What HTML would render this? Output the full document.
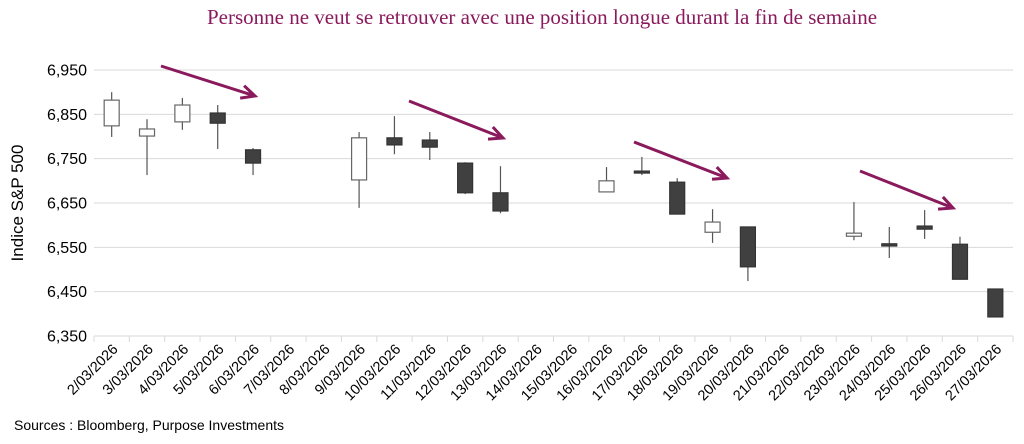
<!DOCTYPE html>
<html><head><meta charset="utf-8"><style>
body{margin:0;background:#fff;width:1024px;height:439px;overflow:hidden;font-family:"Liberation Sans",sans-serif}
</style></head><body>
<svg id="c" width="1024" height="439" xmlns="http://www.w3.org/2000/svg">
<text x="542" y="24" text-anchor="middle" font-family="Liberation Serif,serif" font-size="21" fill="#8a1a5c">Personne ne veut se retrouver avec une position longue durant la fin de semaine</text>
<text transform="translate(23,203) rotate(-90)" text-anchor="middle" font-size="17" fill="#000">Indice S&amp;P 500</text>
<text x="14" y="430" font-size="14" fill="#000">Sources : Bloomberg, Purpose Investments</text>
<g id="grid"></g><g id="ax"></g><g id="marks"></g><g id="arrows"></g>
</svg>
<script>
const categories=["2/03/2026","3/03/2026","4/03/2026","5/03/2026","6/03/2026","7/03/2026","8/03/2026","9/03/2026","10/03/2026","11/03/2026","12/03/2026","13/03/2026","14/03/2026","15/03/2026","16/03/2026","17/03/2026","18/03/2026","19/03/2026","20/03/2026","21/03/2026","22/03/2026","23/03/2026","24/03/2026","25/03/2026","26/03/2026","27/03/2026"];
const openVals=[6824,6801,6833,6853,6770,null,null,6702,6797,6792,6740,6673,null,null,6675,6722,6697,6584,6596,null,null,6575,6558,6598,6557,6456];
const highVals=[6900,6839,6887,6871,6774,null,null,6810,6846,6810,6742,6733,null,null,6731,6754,6706,6636,6596,null,null,6652,6596,6634,6574,6456];
const lowVals=[6799,6713,6815,6772,6713,null,null,6639,6760,6747,6670,6627,null,null,6675,6713,6625,6560,6474,null,null,6566,6526,6569,6478,6393];
const closeVals=[6882,6817,6871,6830,6740,null,null,6797,6781,6776,6673,6632,null,null,6700,6718,6625,6607,6506,null,null,6582,6553,6591,6478,6393];
const yTicks=[6350,6450,6550,6650,6750,6850,6950];
const yTickLabels=["6,350","6,450","6,550","6,650","6,750","6,850","6,950"];
const NS="http://www.w3.org/2000/svg";
const X0=94,X1=1013,Y0=336,Y1=70,VMIN=6350,VMAX=6950;
const bw=(X1-X0)/categories.length;
const xC=i=>X0+bw*(i+0.5);
const y=v=>Y0-(v-VMIN)/(VMAX-VMIN)*(Y0-Y1);
function mk(p,t,a){const e=document.createElementNS(NS,t);for(const k in a)e.setAttribute(k,a[k]);document.getElementById(p).appendChild(e);return e;}
yTicks.forEach((v,i)=>{
 if(i>0){const g=mk('grid','line',{x1:X0,x2:X1,y1:y(v),y2:y(v),stroke:'#d9d9d9','stroke-width':1});
 
 }
 const t=mk('ax','text',{x:87,y:y(v)+5.5,'text-anchor':'end','font-size':16,fill:'#000'});t.textContent=yTickLabels[i];
 
 
});
const axl=mk('ax','line',{x1:X0,x2:X1,y1:Y0,y2:Y0,stroke:'#d9d9d9'});


for(let i=0;i<=categories.length;i++){const tk=mk('ax','line',{x1:X0+bw*i,x2:X0+bw*i,y1:Y0,y2:Y0+6,stroke:'#d9d9d9'});
 
 }
categories.forEach((c,i)=>{
 const cx=xC(i)+7;
 const t=mk('ax','text',{x:cx,y:Y0+14,'text-anchor':'end','font-size':14.5,fill:'#000',transform:`rotate(-45 ${cx} ${Y0+14})`});t.textContent=c;
 
 
 if(openVals[i]==null)return;
 const o=openVals[i],cl=closeVals[i],up=cl>=o;
 const w=mk('marks','line',{x1:xC(i),x2:xC(i),y1:y(highVals[i]),y2:y(lowVals[i]),stroke:'#555','stroke-width':1.2});
 
 
 const top=y(Math.max(o,cl)),h=Math.max(2,Math.abs(y(o)-y(cl)));
 const b=mk('marks','rect',{x:xC(i)-7.5,y:top,width:15,height:h,fill:up?'#fff':'#404040',stroke:up?'#666':'#333','stroke-width':1.2});
 
 
});
const arrows=[[161,66,255,96],[409,101,503,138],[634,142,727,178],[860,171,953,208]];
arrows.forEach(a=>{
 const [x1,y1,x2,y2]=a;const ang=Math.atan2(y2-y1,x2-x1),L=15;
 const p=`M${x1},${y1}L${x2},${y2}M${x2-L*Math.cos(ang-0.45)},${y2-L*Math.sin(ang-0.45)}L${x2},${y2}L${x2-L*Math.cos(ang+0.45)},${y2-L*Math.sin(ang+0.45)}`;
 const e=mk('arrows','path',{d:p,stroke:'#8a1a5c','stroke-width':3,fill:'none','stroke-linecap':'butt'});
 
 
});
</script>
</body></html>
